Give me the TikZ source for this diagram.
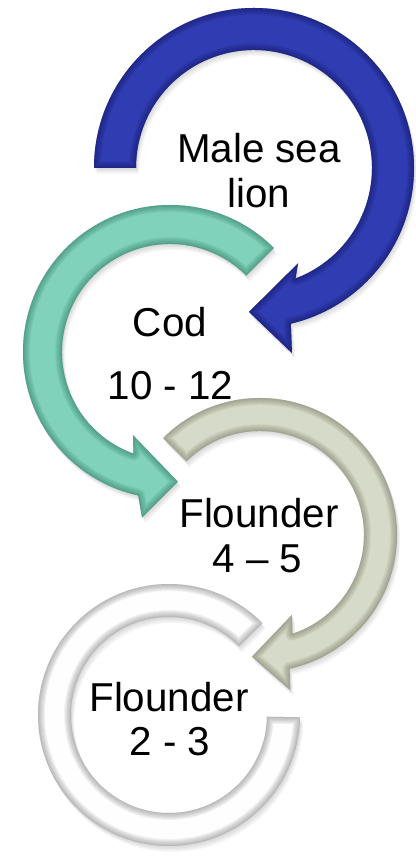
\documentclass[tikz,border=0pt]{standalone}
\usepackage{fontspec}
\setmainfont{Liberation Sans}

% Outlines of the four curved arrows, each in polar form about its own centre
\newcommand\blueArrow{(180:160) arc[start angle=180,end angle=-76.7,radius=160]
  -- (-78.4:189) -- (-92:144) -- (-65.2:105) -- (-69.4:118)
  arc[start angle=-69.4,end angle=180,radius=118] -- cycle}
\newcommand\tealArrow{(45:147) arc[start angle=45,end angle=257.5,radius=147]
  -- (260.4:168) -- (273.5:130) -- (246:91) -- (250.2:108)
  arc[start angle=250.2,end angle=45,radius=108] -- cycle}
\newcommand\sageArrow{(135:137) arc[start angle=135,end angle=-77.5,radius=137]
  -- (-79:158) -- (-93.8:122) -- (-68.2:86) -- (-71.9:104)
  arc[start angle=-71.9,end angle=135,radius=104] -- cycle}
\newcommand\whiteRing{(44.5:131) arc[start angle=44.5,end angle=359,radius=131]
  -- (359:98) arc[start angle=359,end angle=44.5,radius=98] -- cycle}

% Filled shape with a soft shadow and a smooth darkened bevel along its edges
% #1 centre, #2 outline, #3 fill colour, #4 edge colour
\newcommand\bevelShape[4]{%
  \begin{scope}[shift={#1}]
    \foreach \s in {1,2,3,4}
      \fill[black,opacity=0.035,xshift=\s*0.8pt,yshift=-\s*1.5pt] #2;
    \fill[#3] #2;
    \begin{scope}
      \clip #2;
      \foreach \w in {14,12,10,8,6,4,2.5,1.2}
        \draw[#4,line width=\w pt,opacity=0.09,line join=round] #2;
    \end{scope}
  \end{scope}}

\definecolor{blueFill}{RGB}{48,60,178}
\definecolor{blueEdge}{RGB}{20,26,100}
\definecolor{tealFill}{RGB}{128,210,186}
\definecolor{tealEdge}{RGB}{50,120,100}
\definecolor{sageFill}{RGB}{214,218,200}
\definecolor{sageEdge}{RGB}{115,120,100}
\definecolor{ringFill}{RGB}{254,254,254}
\definecolor{ringEdge}{RGB}{130,130,130}

\begin{document}
\begin{tikzpicture}[x=1bp,y=1bp,
  lbl/.style={anchor=base,inner sep=0pt,text=black,
    font=\fontsize{40.5}{46}\selectfont}]
\useasboundingbox (0,0) rectangle (415,856);
\fill[white] (0,0) rectangle (415,856);

% arrows, bottom to top
\bevelShape{(169,141)}{\whiteRing}{ringFill}{ringEdge}
\bevelShape{(260,321)}{\sageArrow}{sageFill}{sageEdge}
\bevelShape{(170,504)}{\tealArrow}{tealFill}{tealEdge}
\bevelShape{(254,688)}{\blueArrow}{blueFill}{blueEdge}

% labels
\node[lbl] (sealionA) at (259,693) {Male sea};
\node[lbl] (sealionB) at (258.5,648) {lion};
\node[lbl] (codA) at (170,519) {Cod};
\node[lbl] (codB) at (170.5,456) {10 - 12};
\node[lbl] (flounderA) at (259,328) {Flounder};
\node[lbl] (flounderB) at (257.5,283) {4 – 5};
\node[lbl] (smallFlounderA) at (169,144) {Flounder};
\node[lbl] (smallFlounderB) at (170,100) {2 - 3};
\end{tikzpicture}
\end{document}
